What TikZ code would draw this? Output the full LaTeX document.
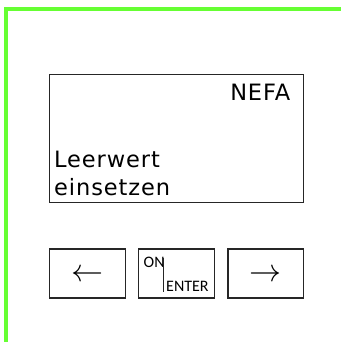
\RequirePackage{fix-cm}
\documentclass[tikz,border=0pt]{standalone}
\usepackage{fontspec}
\setmainfont{DejaVu Sans}[LetterSpace=4]
\newfontfamily\keyfont{Carlito}
\definecolor{framegreen}{RGB}{102,255,51}
\tikzset{
  panelbox/.style={draw=black!85, line width=1.2pt},
  keybox/.style={draw=black!85, line width=1.2pt},
  disptext/.style={inner sep=0pt, font=\fontsize{22.5}{27}\selectfont},
  keytext/.style={inner sep=0pt, font=\keyfont\fontsize{16}{18}\selectfont},
  arrowtext/.style={inner sep=0pt, anchor=base, font=\fontsize{32}{32}\selectfont},
  greenline/.style={draw=framegreen, line width=4pt}
}
\begin{document}
\begin{tikzpicture}[x=1pt,y=-1pt]
\useasboundingbox (0,0) rectangle (341,342);
% green frame
\coordinate (gb) at (6,342);
\coordinate (gc) at (6,9);
\coordinate (ge) at (341,9);
\draw[greenline] (gb) -- (gc) -- (ge);
% display
\draw[panelbox] (49.3,74.7) rectangle (303.7,202.7);
\node[disptext, anchor=base east] (nefa) at (290.5,100.7) {NEFA};
\node[disptext, anchor=base west] (l1) at (54,167.3) {Leerwert};
\node[disptext, anchor=base west] (l2) at (54,195.5) {einsetzen};
% keys
\draw[keybox] (49.3,249) rectangle (125.3,298) node[midway] (kl) {};
\draw[keybox] (138.7,249) rectangle (214.3,298) node[midway] (km) {};
\draw[keybox] (228,249) rectangle (303.7,298) node[midway] (kr) {};
\node[arrowtext] (al) at (87.3,281.5) {$\leftarrow$};
\node[arrowtext] (ar) at (265.8,281.5) {$\rightarrow$};
\node[keytext, anchor=base west] (on) at (143.5,267.3) {ON};
\node[keytext, anchor=base west] (enter) at (166,291.7) {ENTER};
\coordinate (bt) at (163.8,258);
\coordinate (bb) at (163.8,292);
\draw[line width=1.1pt, black!85] (bt) -- (bb);
\end{tikzpicture}
\end{document}
